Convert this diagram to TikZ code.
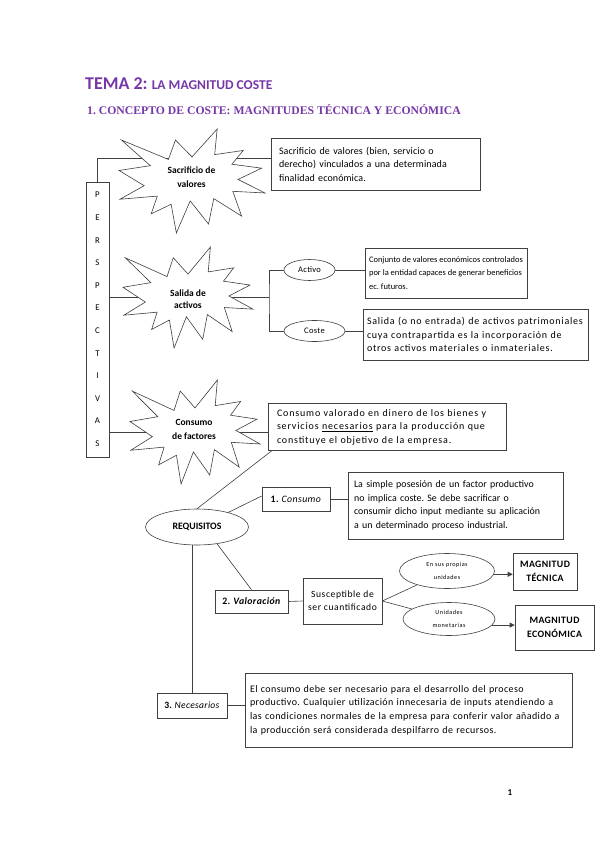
\documentclass[tikz,border=0pt]{standalone}
\usepackage{fontspec}
\setmainfont{Carlito}
\newfontfamily\subfont{Liberation Serif}
\usetikzlibrary{shapes.geometric,arrows.meta,calc}
\frenchspacing
\definecolor{tpurple}{RGB}{118,56,168}
\definecolor{lncol}{RGB}{64,64,64}
\tikzset{
 ln/.style={draw=lncol, line width=0.6pt},
 tbox/.style={ln, fill=white, rectangle, align=left, inner ysep=0pt},
 tf/.style 2 args={font=\fontsize{#1}{13.6}\selectfont\addfontfeatures{LetterSpace=#2}},
 lbl/.style={ln, fill=white, rectangle, align=center, inner sep=0pt},
 ell/.style={ln, fill=white, ellipse, inner sep=0pt, align=center},
 stxt/.style={align=center, font=\bfseries\fontsize{9.5}{14}\selectfont, inner sep=0pt},
 arr/.style={ln, -{Triangle[length=5pt,width=5pt]}},
}
\newcommand\explosion[4]{%
 \begin{scope}[shift={(#1,#2)},xscale=#3/216,yscale=#4/216]
 \draw[ln,fill=white] (108,58) -- (145.22,0) -- (141.55,53.25) -- (183.80,44.57) -- (167.02,73.15) -- (210.97,81.37) -- (176.07,104.75) -- (216,132.90) -- (168.37,129.42) -- (181.45,180.95) -- (140.20,144.57) -- (132.47,197.37) -- (105.32,149.35) -- (84.85,216) -- (77.15,156.27) -- (47.62,176.17) -- (56.67,139.37) -- (1.35,145.87) -- (37.22,117.75) -- (0,86.15) -- (46.27,76.17) -- (3.70,22.95) -- (73.12,63.20) -- (83.52,22.95) -- cycle;
 \end{scope}}
\begin{document}
\begin{tikzpicture}[x=1pt,y=-1pt]
\useasboundingbox[fill=white] (0,0) rectangle (599,848);

% title
\node[anchor=base west, inner sep=0pt, text=tpurple] (title) at (85,90) {\bfseries\fontsize{18}{20}\selectfont TEMA 2: \fontsize{13.5}{15}\selectfont LA MAGNITUD COSTE};
\node[anchor=base west, inner sep=0pt, text=tpurple, font=\subfont\bfseries\fontsize{11.7}{13}\selectfont] (sub) at (87,114) {1. CONCEPTO DE COSTE: MAGNITUDES TÉCNICA Y ECONÓMICA};

% perspectivas column
\node[ln, rectangle, minimum width=23, minimum height=275, inner sep=0pt, align=center, font=\fontsize{8.8}{22.6}\selectfont] (persp) at (97.5,319.5) {P\\E\\R\\S\\P\\E\\C\\T\\I\\V\\A\\S};

% text boxes
\node[tbox, tf={10}{1}, inner xsep=8pt, text width=193, minimum height=52] (b1) at (375.5,164) {Sacrificio de valores (bien, servicio o\\derecho) vinculados a una determinada\\finalidad económica.};
\node[tbox, font=\fontsize{8.45}{13.6}\selectfont, inner xsep=0pt, minimum width=162, minimum height=50] (bact) at (446,273) {Conjunto de valores económicos controlados\\por la entidad capaces de generar beneficios\\ec. futuros.};
\node[tbox, tf={10}{7.5}, inner xsep=4pt, text width=217, minimum height=51] (bcos) at (475.5,334.5) {Salida (o no entrada) de activos patrimoniales\\cuya contrapartida es la incorporación de\\otros activos materiales o inmateriales.};
\node[tbox, tf={10}{8.4}, inner xsep=9pt, text width=220, minimum height=47] (b3) at (387,427) {Consumo valorado en dinero de los bienes y\\servicios \underline{necesarios} para la producción que\\constituye el objetivo de la empresa.};
\node[tbox, tf={9.9}{0.5}, inner xsep=6pt, text width=203, minimum height=67] (b4) at (455.5,505.5) {La simple posesión de un factor productivo\\no implica coste. Se debe sacrificar o\\consumir dicho input mediante su aplicación\\a un determinado proceso industrial.};
\node[tbox, tf={10}{4}, inner xsep=5pt, text width=317, minimum height=74] (b5) at (408.5,710) {El consumo debe ser necesario para el desarrollo del proceso\\productivo. Cualquier utilización innecesaria de inputs atendiendo a\\las condiciones normales de la empresa para conferir valor añadido a\\la producción será considerada despilfarro de recursos.};

% ellipses
\node[ell, minimum width=51, minimum height=21, tf={8.5}{4}] (act) at (309.5,270) {Activo};
\node[ell, minimum width=61, minimum height=21, tf={8.5}{4}] (cos) at (314.5,331) {Coste};
\node[ell, minimum width=103, minimum height=36, font=\bfseries\fontsize{9.8}{11}\selectfont] (req) at (197,527) {REQUISITOS};
\node[ell, minimum width=95, minimum height=35, font=\fontsize{6.2}{12.5}\selectfont\addfontfeatures{LetterSpace=8}] (e1) at (447,571) {En sus propias\\unidades};
\node[ell, minimum width=92, minimum height=33, font=\fontsize{6.2}{12.5}\selectfont\addfontfeatures{LetterSpace=8}] (e2) at (449,619) {Unidades\\monetarias};

% labels
\node[lbl, minimum width=68, minimum height=24, font=\fontsize{9.8}{11}\selectfont\addfontfeatures{LetterSpace=4}] (cons) at (296,499) {\textbf{1.} \textit{Consumo}};
\node[lbl, minimum width=73, minimum height=23, font=\fontsize{9.8}{11}\selectfont\addfontfeatures{LetterSpace=4}] (val) at (251.5,601.5) {\textbf{2.} \textbf{\textit{Valoración}}};
\node[lbl, minimum width=79, minimum height=46, font=\fontsize{9.6}{13}\selectfont\addfontfeatures{LetterSpace=6}] (susc) at (342.5,601) {Susceptible de\\ser cuantificado};
\node[lbl, minimum width=64, minimum height=37, font=\bfseries\fontsize{9.8}{14}\selectfont\addfontfeatures{LetterSpace=4}] (tec) at (545,571.5) {MAGNITUD\\TÉCNICA};
\node[lbl, minimum width=79, minimum height=45, font=\bfseries\fontsize{9.8}{14}\selectfont\addfontfeatures{LetterSpace=4}] (eco) at (554.5,627.5) {MAGNITUD\\ECONÓMICA};
\node[lbl, minimum width=70, minimum height=25, font=\fontsize{9.6}{11}\selectfont\addfontfeatures{LetterSpace=3}] (nec) at (192,705.5) {\textbf{3.} \textit{Necesarios}};

% connectors
\draw[ln] (persp.north) |- ([yshift=6pt]b1.west);
\coordinate (j2) at (269,297);
\draw[ln] (persp.east |- j2) -- (j2);
\draw[ln] (act.west) -| (j2) |- (cos.west);
\draw[ln] (act.east) -- (act.east -| bact.west);
\draw[ln] (cos.east) -- (cos.east -| bcos.west);
\draw[ln] (persp.east |- 0,432) -- (b3.west |- 0,432);
\draw[ln] ([xshift=4pt]b3.south west) -- (req.north);
\draw[ln] (req.25) -- ([yshift=3pt]cons.west);
\draw[ln] (cons.east) -- (cons.east -| b4.west);
\draw[ln] (req.-40) -- (val.north);
\draw[ln] (val.east) -- (susc.west);
\draw[ln] (susc.east) -- (e1);
\draw[ln] (susc.east) -- (e2);
\draw[arr] (e1.-4) -- (e1.-4 -| tec.west);
\draw[arr] (e2.-8) -- (e2.-8 -| eco.west);
\draw[ln] (nec.north) -- (nec.north |- req.south);
\draw[ln] (nec.east) -- (nec.east -| b5.west);

% explosions
\explosion{119}{129}{146}{104}
\explosion{123}{247}{130}{101}
\explosion{130}{380}{130}{104}
\node[stxt] (s1) at (191.5,177.5) {Sacrificio de\\valores};
\node[stxt, font=\bfseries\fontsize{9.5}{12.5}\selectfont] (s2) at (188,299) {Salida de\\activos};
\node[stxt] (s3) at (194,429) {Consumo\\de factores};

\node[inner sep=0pt, font=\bfseries\fontsize{9}{10}\selectfont] (pnum) at (510,793) {1};
\end{tikzpicture}
\end{document}
